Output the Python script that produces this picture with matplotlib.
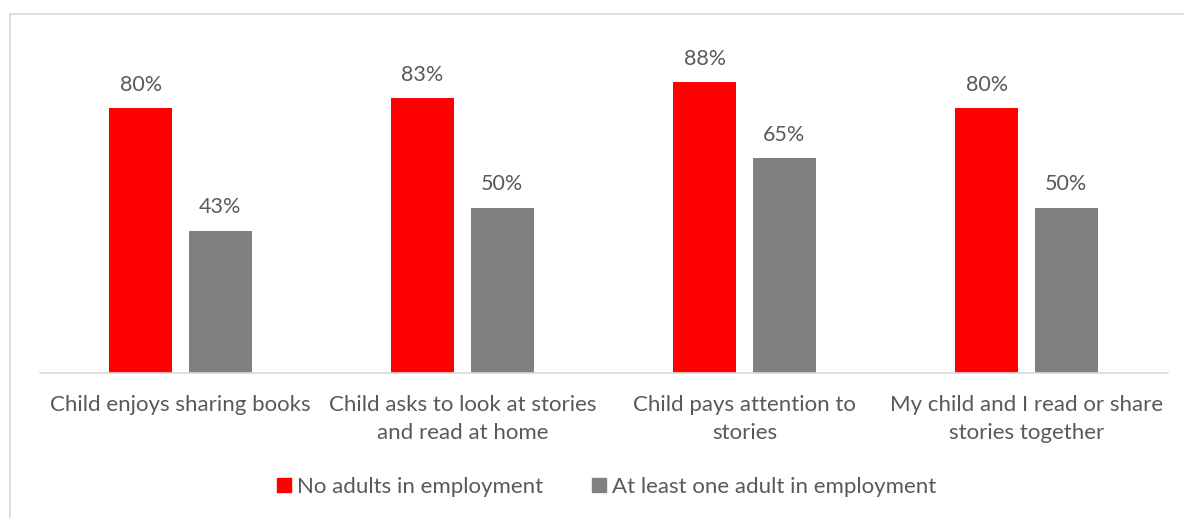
import matplotlib
matplotlib.use("Agg")
import matplotlib.pyplot as plt
import numpy as np
from matplotlib.lines import Line2D
from matplotlib.patches import Patch

categories = ["Child enjoys sharing books",
              "Child asks to look at stories\nand read at home",
              "Child pays attention to\nstories",
              "My child and I read or share\nstories together"]
no_adults = [80, 83, 88, 80]
one_adult = [43, 50, 65, 50]
series_names = ["No adults in employment", "At least one adult in employment"]
colors = ["#FF0000", "#808080"]
text_color = "#595959"

plt.rcParams['font.family'] = ['Lato', 'DejaVu Sans']

W, H = 1184, 518
fig = plt.figure(figsize=(W / 100, H / 100), dpi=100)
ax = fig.add_axes([39.5 / W, 145 / H, 1128 / W, 331 / H])

x = np.arange(len(categories))
bw = 0.223
gap = 0.06
off = (bw + gap) / 2
b1 = ax.bar(x - off, no_adults, bw, color=colors[0])
b2 = ax.bar(x + off, one_adult, bw, color=colors[1])

for bars, vals in ((b1, no_adults), (b2, one_adult)):
    for b, v in zip(bars, vals):
        ax.annotate(f"{v}%", (b.get_x() + b.get_width() / 2, v),
                    xytext=(0, 9.5), textcoords="offset points",
                    ha="center", va="bottom", fontsize=15.5, color=text_color)

ax.set_xlim(-0.5, len(categories) - 0.5)
ax.set_ylim(0, 100)
ax.set_yticks([])
ax.set_xticks(x)
ax.set_xticklabels(categories, fontsize=16, color=text_color, linespacing=1.47)
ax.tick_params(axis="x", length=0, pad=16)
for s in ["top", "right", "left"]:
    ax.spines[s].set_visible(False)
ax.spines["bottom"].set_color("#D9D9D9")
ax.spines["bottom"].set_linewidth(1.2)

handles = [Patch(color=c) for c in colors]
leg = fig.legend(handles, series_names, loc="center", bbox_to_anchor=(607 / W, 31 / H),
                 ncol=2, frameon=False, fontsize=16, handlelength=0.6, handleheight=0.6,
                 handletextpad=0.3, columnspacing=2.2)
for t in leg.get_texts():
    t.set_color(text_color)

# outer border (top and left visible)
fig.add_artist(Line2D([10 / W, 1], [1 - 14 / H, 1 - 14 / H], color="#D9D9D9", lw=1.2,
                      transform=fig.transFigure))
fig.add_artist(Line2D([10 / W, 10 / W], [0, 1 - 14 / H], color="#D9D9D9", lw=1.2,
                      transform=fig.transFigure))

fig.savefig("out.png", dpi=100, facecolor="white")
